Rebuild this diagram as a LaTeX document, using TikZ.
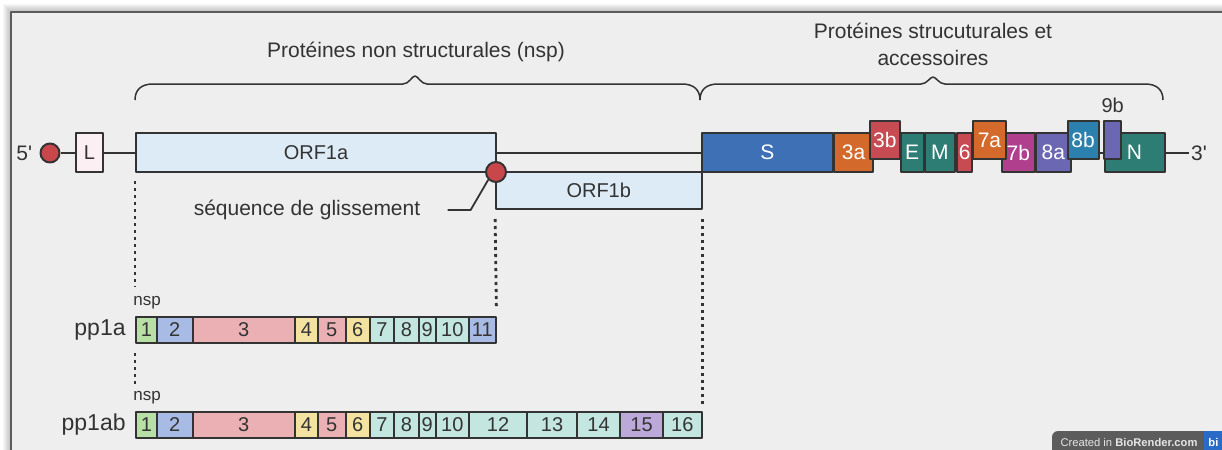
\documentclass[tikz,border=0pt]{standalone}
\usepackage{fontspec}
\setmainfont{Liberation Sans}
\usepackage{tikz}
\usetikzlibrary{positioning}
\definecolor{bg}{HTML}{EEEEEE}
\definecolor{ink}{HTML}{333333}
\definecolor{orfblue}{HTML}{DDEBF6}
\definecolor{lpink}{HTML}{FBEFF3}
\definecolor{dotred}{HTML}{C9474B}
\definecolor{gsblue}{HTML}{3E70B6}
\definecolor{gorange}{HTML}{D36A2C}
\definecolor{gred}{HTML}{C64B52}
\definecolor{gteal}{HTML}{2E7D74}
\definecolor{gmagenta}{HTML}{B0408E}
\definecolor{gpurple}{HTML}{6C67B2}
\definecolor{gblue}{HTML}{2B80AE}
\definecolor{ngreen}{HTML}{B8DFA6}
\definecolor{nblue}{HTML}{A8BBE4}
\definecolor{npink}{HTML}{EBB0B3}
\definecolor{nyellow}{HTML}{F4E2A1}
\definecolor{nteal}{HTML}{C4E6E0}
\definecolor{nlav}{HTML}{BCA9D9}
\definecolor{badgegray}{HTML}{5C5C5C}
\definecolor{bioblue}{HTML}{2A6BC7}

\begin{document}
\begin{tikzpicture}[x=0.5pt, y=-0.5pt, line join=round,
  box/.style={draw=ink, line width=1pt, inner sep=0pt, text=ink, font=\fontsize{10}{11}\selectfont},
  gene/.style={box, text=white, minimum height=19.25pt, font=\fontsize{10.5}{11}\selectfont},
  seg/.style={box, minimum height=13.3pt},
  lbl/.style={text=ink, inner sep=1pt, font=\fontsize{10.5}{13.5}\selectfont},
  dotline/.style={ink, line width=1.4pt, dash pattern=on 1.6pt off 1.9pt}]
\tikzstyle{dot} = [circle, draw=ink, fill=dotred, line width=1pt, inner sep=0pt]
\tikzstyle{small} = [lbl, inner sep=0pt, font=\fontsize{8.5}{9}\selectfont]

\useasboundingbox (0,0) rectangle (1222,450);
\fill[white] (0,0) rectangle (1222,450);
\foreach \i in {1,...,8}
  \fill[black, opacity=0.03] ({11-\i},{12-\i}) rectangle (1240,470);
\filldraw[fill=bg, draw=ink!80, line width=0.8pt] (11,12) rectangle (1240,470);

\node[lbl] (nsptitle) at (416,52) {Protéines non structurales (nsp)};
\node[lbl, align=center] (sptitle) at (933,44.5) {Protéines strucuturales et\\accessoires};
\draw[ink, line width=0.75pt] (135,100) .. controls (135,90) and (141,84) .. (153,84) -- (403,84)
  .. controls (409,84) and (412,76) .. (415,76) .. controls (418,76) and (421,84) .. (427,84)
  -- (682,84) .. controls (694,84) and (700,90) .. (700,100);
\draw[ink, line width=0.75pt] (700,100) .. controls (700,90) and (706,84) .. (718,84) -- (921,84)
  .. controls (927,84) and (930,77) .. (933,77) .. controls (936,77) and (939,84) .. (945,84)
  -- (1145,84) .. controls (1157,84) and (1163,90) .. (1163,100);

\node[dot, minimum size=9.5pt] (c5) at (50,153) {};
\node[lbl, left=2.5pt of c5] (p5) {5\textquotesingle};
\node[lbl] (p3) at (1199,153) {3\textquotesingle};
\draw[ink, line width=1pt] (c5) -- (p3);

\node[box, fill=lpink, minimum width=13.5pt, minimum height=19.5pt] (L) at (89.5,152.5) {L};
\node[box, fill=orfblue, minimum width=180pt, minimum height=19.5pt] (orfA) at (316,152.5) {ORF1a};
\node[box, fill=orfblue, minimum width=102.75pt, minimum height=18.5pt] (orfB) at (598.75,190.5) {ORF1b};
\node[dot, minimum size=10pt] (slip) at (496,172) {};
\node[lbl] (seq) at (307,210) {séquence de glissement};
\draw[ink, line width=0.9pt] ([xshift=12.5pt]seq.east) -- ([xshift=24pt]seq.east) -- (slip.south west);

\foreach \g/\a/\b/\y/\c in {S/702/832.5/152.5/gsblue, 3a/834/873/152.5/gorange, 3b/870/899.5/140/gred,
    E/900.5/923.5/152.5/gteal, M/925/954.7/152.5/gteal, 6/957/972.3/152.5/gred,
    7b/1001.5/1035/152.5/gmagenta, 7a/973.3/1005.6/140/gorange, 8a/1036/1070.7/152.5/gpurple,
    8b/1067.5/1098.5/140/gblue, N/1104.5/1164.5/152.5/gteal}
  \node[gene, fill=\c, minimum width={(\b-\a)*0.5pt}] (g\g) at ({(\a+\b)/2},\y) {\g};
\node[gene, fill=gpurple, minimum width=8.25pt] (g9b) at (1112.7,140) {};
\node[lbl, font=\fontsize{10}{11}\selectfont, above=2.5pt of g9b] (t9b) {9b};

\foreach \n/\a/\b/\c in {1/136/157/ngreen, 2/157/192.5/nblue, 3/192.5/295/npink, 4/295/318/nyellow,
    5/318/345.5/npink, 6/345.5/370/nyellow, 7/370/394/nteal, 8/394/419/nteal, 9/419/435.5/nteal,
    10/435.5/469/nteal, 11/469/495.5/nblue}
  \node[seg, fill=\c, minimum width={(\b-\a)*0.5pt}] (pa\n) at ({(\a+\b)/2},330) {\n};
\foreach \n/\a/\b/\c in {1/136/157/ngreen, 2/157/192.5/nblue, 3/192.5/295/npink, 4/295/318/nyellow,
    5/318/345.5/npink, 6/345.5/370/nyellow, 7/370/394/nteal, 8/394/419/nteal, 9/419/435.5/nteal,
    10/435.5/469/nteal, 12/469/527/nteal, 13/527/577/nteal, 14/577/620/nteal, 15/620/663/nlav,
    16/663/701.5/nteal}
  \node[seg, fill=\c, minimum width={(\b-\a)*0.5pt}] (pb\n) at ({(\a+\b)/2},425) {\n};

\node[lbl, font=\fontsize{11.5}{12}\selectfont, left=3.5pt of pa1] (rowA) {pp1a};
\node[lbl, font=\fontsize{11.5}{12}\selectfont, left=3.5pt of pb1] (rowB) {pp1ab};
\node[small, above right=3pt and -1pt of pa1.north west] (nspA) {nsp};
\node[small, above right=3pt and -1pt of pb1.north west] (nspB) {nsp};

\draw[dotline, shorten <=4pt, shorten >=4.5pt] (orfA.south west) -- (orfA.south west |- nspA.north);
\draw[dotline, shorten <=4.3pt, shorten >=3.5pt] (pa1.south west) -- (pa1.south west |- nspB.north);
\draw[dotline, shorten <=4.5pt, shorten >=3.5pt] (orfB.south west) -- (pa11.north east);
\draw[dotline, shorten <=4.5pt, shorten >=3.3pt] (orfB.south east) -- (pb16.north east);

\fill[badgegray, rounded corners=3pt] (1052,431) rectangle (1240,462);
\fill[bioblue] (1204,431) rectangle (1240,462);
\node[text=white!90!black, font=\fontsize{5.6}{6}\selectfont] (credit) at (1129,442) {Created in \textbf{BioRender.com}};
\node[text=white, anchor=west, inner sep=0pt, font=\fontsize{5.6}{6}\selectfont\bfseries] (bi) at (1208,442) {bi};
\end{tikzpicture}
\end{document}
